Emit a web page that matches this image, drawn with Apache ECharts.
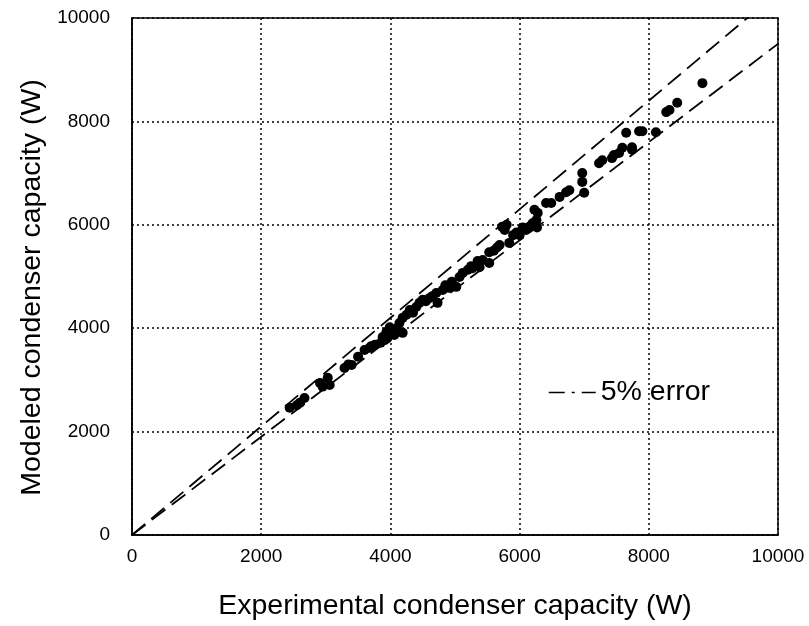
<!DOCTYPE html>
<html>
<head>
<meta charset="utf-8">
<script src="https://cdn.jsdelivr.net/npm/echarts@6/dist/echarts.min.js"></script>
<style>
  html, body { margin: 0; padding: 0; background: #fff; }
  #chart { width: 809px; height: 626px; }
</style>
</head>
<body>
<div id="chart"></div>
<script>
// Experimental vs modeled condenser capacity (W)
var measuredPoints = [
  [2440,2460],[2550,2510],[2670,2650],[2600,2560],
  [2910,2940],[3030,3040],[3060,2900],[2950,2870],
  [3290,3230],[3400,3290],[3350,3300],[3500,3450],
  [3600,3580],[3760,3680],[3680,3620],[3700,3650],
  [3910,3770],[4060,3870],[3850,3720],[3950,3800],
  [3990,4020],[3940,3930],[3880,3830],[4140,4100],[4190,3910],[4100,4000],[4000,3950],
  [4300,4350],[4250,4260],[4190,4200],[4350,4300],
  [4500,4550],[4450,4490],[4400,4410],[4730,4490],
  [4550,4520],[4600,4580],[4650,4620],
  [5020,4800],[4910,4780],[4810,4740],[4710,4680],[4850,4830],[4950,4900],
  [5120,5070],[5070,4990],[5200,5130],[5250,5200],
  [5530,5260],[5380,5180],[5270,5160],[5350,5300],
  [5430,5320],[5380,5260],[5530,5470],[5600,5500],[5650,5560],
  [5840,5650],[5690,5610],[5770,5900],[5730,5960],[5800,6000],
  [5900,5800],[5950,5850],[6000,5800],[6050,5950],
  [6100,5900],[6150,5960],[6200,6030],[6260,6090],[6250,6000],[6270,5950],
  [6230,6290],[6280,6230],
  [6410,6420],[6490,6420],[6620,6540],[6720,6630],[6770,6670],
  [6970,6830],[7000,6620],[6970,7000],
  [7280,7250],[7230,7190],[7460,7350],[7430,7290],
  [7590,7490],[7540,7390],[7740,7500],[7740,7450],
  [7650,7780],[7850,7810],[7900,7810],[8110,7790],
  [8270,8180],[8320,8220],[8440,8360],[8830,8740]
];
var upperErrorLine = [[0,0],[9524,10000]];   // +5%
var lowerErrorLine = [[0,0],[10000,9500]];   // -5%
var axisTicks = [0, 2000, 4000, 6000, 8000, 10000];
var xTitle = 'Experimental condenser capacity (W)';
var yTitle = 'Modeled condenser capacity (W)';
var legendLabel = '5% error';

var FONT = '"Liberation Sans", Arial, Helvetica, sans-serif';
var chart = echarts.init(document.getElementById('chart'), null, {renderer: 'canvas'});

var axisCommon = {
  type: 'value',
  min: axisTicks[0],
  max: axisTicks[axisTicks.length - 1],
  interval: axisTicks[1] - axisTicks[0],
  nameLocation: 'middle',
  nameTextStyle: {fontFamily: FONT, fontSize: 28.5, color: '#000'},
  axisLine: {show: true, lineStyle: {color: '#000', width: 1.5}},
  axisTick: {show: false},
  axisLabel: {fontFamily: FONT, fontSize: 19, color: '#000', formatter: function (v) { return String(v); }},
  splitLine: {show: true, lineStyle: {color: '#000', type: [2, 3], width: 1.5}}
};

chart.setOption({
  backgroundColor: '#fff',
  animation: false,
  color: ['#000'],
  grid: {left: 132, right: 31, top: 18, bottom: 91, show: true, borderColor: '#000', borderWidth: 1.5, backgroundColor: 'transparent'},
  xAxis: Object.assign({}, axisCommon, {
    name: xTitle, nameGap: 57,
    axisLabel: Object.assign({}, axisCommon.axisLabel, {margin: 12})
  }),
  yAxis: Object.assign({}, axisCommon, {
    name: yTitle, nameGap: 79,
    nameTextStyle: Object.assign({}, axisCommon.nameTextStyle, {padding: [0, 22, 0, 0]}),
    axisLabel: Object.assign({}, axisCommon.axisLabel, {margin: 22})
  }),
  legend: {
    data: [legendLabel],
    left: 543, top: 373,
    itemWidth: 47, itemHeight: 14,
    itemGap: 12,
    textStyle: {fontFamily: FONT, fontSize: 28.5, color: '#000'},
    itemStyle: {opacity: 0},
    lineStyle: {type: [16, 7, 3, 7], width: 1.5, color: '#000'}
  },
  series: [
    {
      name: legendLabel, type: 'line', data: upperErrorLine, color: '#000',
      showSymbol: false, symbol: 'none', silent: true,
      lineStyle: {color: '#000', width: 1.8, type: [17, 8]}
    },
    {
      name: legendLabel, type: 'line', data: lowerErrorLine, color: '#000',
      showSymbol: false, symbol: 'none', silent: true,
      lineStyle: {color: '#000', width: 1.8, type: [17, 8]}
    },
    {
      name: 'data', type: 'scatter', data: measuredPoints,
      symbol: 'circle', symbolSize: 10,
      itemStyle: {color: '#000', opacity: 1}
    }
  ]
});
</script>
</body>
</html>
